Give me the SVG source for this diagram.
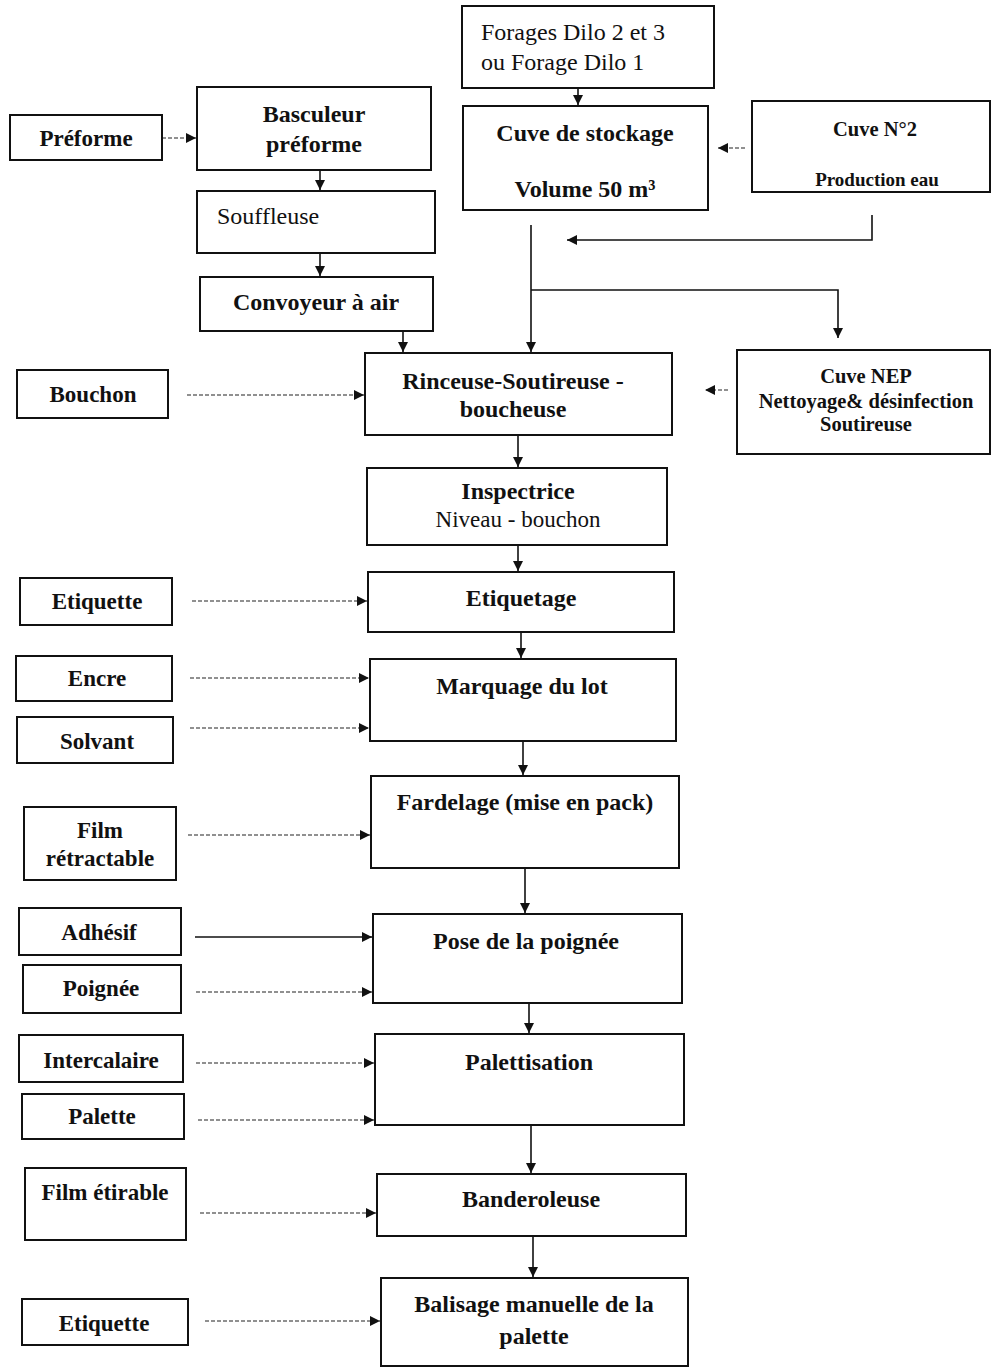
<svg xmlns="http://www.w3.org/2000/svg" width="991" height="1370" viewBox="0 0 991 1370">
<defs>
<style>
.box{fill:#fff;stroke:#111;stroke-width:2}
.t{font-family:"Liberation Serif",serif;font-weight:bold;font-size:24px;fill:#111;text-anchor:middle}
.sm{font-size:23px}
.s{font-size:20.5px}
.r{font-weight:normal}
.st{text-anchor:start}
.flow{stroke:#111;stroke-width:1.6;fill:none}
.in{stroke:#222;stroke-width:1.2;stroke-dasharray:4 2;fill:none}
</style>
<marker id="ah" viewBox="0 0 10 10" refX="10" refY="5" markerWidth="10" markerHeight="10" markerUnits="userSpaceOnUse" orient="auto">
<path d="M0,0 L10,5 L0,10 z" fill="#111"/>
</marker>
</defs>
<rect width="991" height="1370" fill="#fff"/>
<g id="connectors">
<line class="in" x1="162" y1="138" x2="196" y2="138" marker-end="url(#ah)"/>
<line class="flow" x1="320" y1="170" x2="320" y2="190" marker-end="url(#ah)"/>
<line class="flow" x1="320" y1="254" x2="320" y2="276" marker-end="url(#ah)"/>
<line class="flow" x1="403" y1="331" x2="403" y2="352" marker-end="url(#ah)"/>
<line class="flow" x1="578" y1="88" x2="578" y2="105" marker-end="url(#ah)"/>
<line class="in" x1="745" y1="148" x2="718" y2="148" marker-end="url(#ah)"/>
<polyline class="flow" points="872,215 872,240 567,240" marker-end="url(#ah)"/>
<line class="flow" x1="531" y1="225" x2="531" y2="352" marker-end="url(#ah)"/>
<polyline class="flow" points="531,290 838,290 838,338" marker-end="url(#ah)"/>
<line class="in" x1="728" y1="390" x2="705" y2="390" marker-end="url(#ah)"/>
<line class="in" x1="187" y1="395" x2="364" y2="395" marker-end="url(#ah)"/>
<line class="flow" x1="518" y1="435" x2="518" y2="467" marker-end="url(#ah)"/>
<line class="flow" x1="518" y1="545" x2="518" y2="571" marker-end="url(#ah)"/>
<line class="in" x1="192" y1="601" x2="367" y2="601" marker-end="url(#ah)"/>
<line class="flow" x1="521" y1="632" x2="521" y2="658" marker-end="url(#ah)"/>
<line class="in" x1="190" y1="678" x2="369" y2="678" marker-end="url(#ah)"/>
<line class="in" x1="190" y1="728" x2="369" y2="728" marker-end="url(#ah)"/>
<line class="flow" x1="523" y1="741" x2="523" y2="775" marker-end="url(#ah)"/>
<line class="in" x1="188" y1="835" x2="370" y2="835" marker-end="url(#ah)"/>
<line class="flow" x1="525" y1="868" x2="525" y2="913" marker-end="url(#ah)"/>
<line class="flow" x1="195" y1="937" x2="372" y2="937" marker-end="url(#ah)"/>
<line class="in" x1="196" y1="992" x2="372" y2="992" marker-end="url(#ah)"/>
<line class="flow" x1="529" y1="1003" x2="529" y2="1033" marker-end="url(#ah)"/>
<line class="in" x1="196" y1="1063" x2="374" y2="1063" marker-end="url(#ah)"/>
<line class="in" x1="198" y1="1120" x2="374" y2="1120" marker-end="url(#ah)"/>
<line class="flow" x1="531" y1="1125" x2="531" y2="1173" marker-end="url(#ah)"/>
<line class="in" x1="200" y1="1213" x2="376" y2="1213" marker-end="url(#ah)"/>
<line class="flow" x1="533" y1="1236" x2="533" y2="1277" marker-end="url(#ah)"/>
<line class="in" x1="205" y1="1321" x2="380" y2="1321" marker-end="url(#ah)"/>
</g>
<g id="preforme"><rect class="box" x="10" y="115" width="152" height="45"/><text class="t sm" x="86" y="146">Préforme</text></g>
<g id="basculeur"><rect class="box" x="197" y="87" width="234" height="83"/><text class="t" x="314" y="122">Basculeur</text><text class="t" x="314" y="152">préforme</text></g>
<g id="souffleuse"><rect class="box" x="197" y="191" width="238" height="62"/><text class="t r st" x="217" y="224">Souffleuse</text></g>
<g id="convoyeur"><rect class="box" x="200" y="277" width="233" height="54"/><text class="t" x="316" y="310">Convoyeur à air</text></g>
<g id="forages"><rect class="box" x="462" y="6" width="252" height="82"/><text class="t r st" x="481" y="40">Forages Dilo 2 et 3</text><text class="t r st" x="481" y="70">ou Forage Dilo 1</text></g>
<g id="cuve-stockage"><rect class="box" x="463" y="106" width="245" height="104"/><text class="t" x="585" y="141">Cuve de stockage</text><text class="t" x="585" y="197">Volume 50 m³</text></g>
<g id="cuve-n2"><rect class="box" x="752" y="101" width="238" height="91"/><text class="t s" x="875" y="136">Cuve N°2</text><text class="t" style="font-size:19px" x="877" y="186">Production eau</text></g>
<g id="cuve-nep"><rect class="box" x="737" y="350" width="253" height="104"/><text class="t s" x="866" y="383">Cuve NEP</text><text class="t s" x="866" y="408">Nettoyage&amp; désinfection</text><text class="t s" x="866" y="431">Soutireuse</text></g>
<g id="rinceuse"><rect class="box" x="365" y="353" width="307" height="82"/><text class="t" x="513" y="389">Rinceuse-Soutireuse -</text><text class="t" x="513" y="417">boucheuse</text></g>
<g id="bouchon"><rect class="box" x="17" y="370" width="151" height="48"/><text class="t sm" x="93" y="402">Bouchon</text></g>
<g id="inspectrice"><rect class="box" x="367" y="468" width="300" height="77"/><text class="t" x="518" y="499">Inspectrice</text><text class="t r sm" x="518" y="527">Niveau - bouchon</text></g>
<g id="etiquette-1"><rect class="box" x="20" y="578" width="152" height="47"/><text class="t sm" x="97" y="609">Etiquette</text></g>
<g id="etiquetage"><rect class="box" x="368" y="572" width="306" height="60"/><text class="t" x="521" y="606">Etiquetage</text></g>
<g id="encre"><rect class="box" x="16" y="656" width="156" height="45"/><text class="t sm" x="97" y="686">Encre</text></g>
<g id="solvant"><rect class="box" x="17" y="717" width="156" height="46"/><text class="t sm" x="97" y="749">Solvant</text></g>
<g id="marquage"><rect class="box" x="370" y="659" width="306" height="82"/><text class="t" x="522" y="694">Marquage du lot</text></g>
<g id="film-retractable"><rect class="box" x="24" y="807" width="152" height="73"/><text class="t sm" x="100" y="838">Film</text><text class="t sm" x="100" y="866">rétractable</text></g>
<g id="fardelage"><rect class="box" x="371" y="776" width="308" height="92"/><text class="t" x="525" y="810">Fardelage (mise en pack)</text></g>
<g id="adhesif"><rect class="box" x="19" y="908" width="162" height="47"/><text class="t sm" x="99" y="940">Adhésif</text></g>
<g id="poignee"><rect class="box" x="23" y="965" width="158" height="48"/><text class="t sm" x="101" y="996">Poignée</text></g>
<g id="pose-poignee"><rect class="box" x="373" y="914" width="309" height="89"/><text class="t" x="526" y="949">Pose de la poignée</text></g>
<g id="intercalaire"><rect class="box" x="19" y="1035" width="164" height="47"/><text class="t sm" x="101" y="1068">Intercalaire</text></g>
<g id="palette"><rect class="box" x="22" y="1094" width="162" height="45"/><text class="t sm" x="102" y="1124">Palette</text></g>
<g id="palettisation"><rect class="box" x="375" y="1034" width="309" height="91"/><text class="t" x="529" y="1070">Palettisation</text></g>
<g id="film-etirable"><rect class="box" x="25" y="1168" width="161" height="72"/><text class="t sm" x="105" y="1200">Film étirable</text></g>
<g id="banderoleuse"><rect class="box" x="377" y="1174" width="309" height="62"/><text class="t" x="531" y="1207">Banderoleuse</text></g>
<g id="etiquette-2"><rect class="box" x="22" y="1299" width="166" height="46"/><text class="t sm" x="104" y="1331">Etiquette</text></g>
<g id="balisage"><rect class="box" x="381" y="1278" width="307" height="88"/><text class="t" x="534" y="1312">Balisage  manuelle de la</text><text class="t" x="534" y="1344">palette</text></g>
</svg>
